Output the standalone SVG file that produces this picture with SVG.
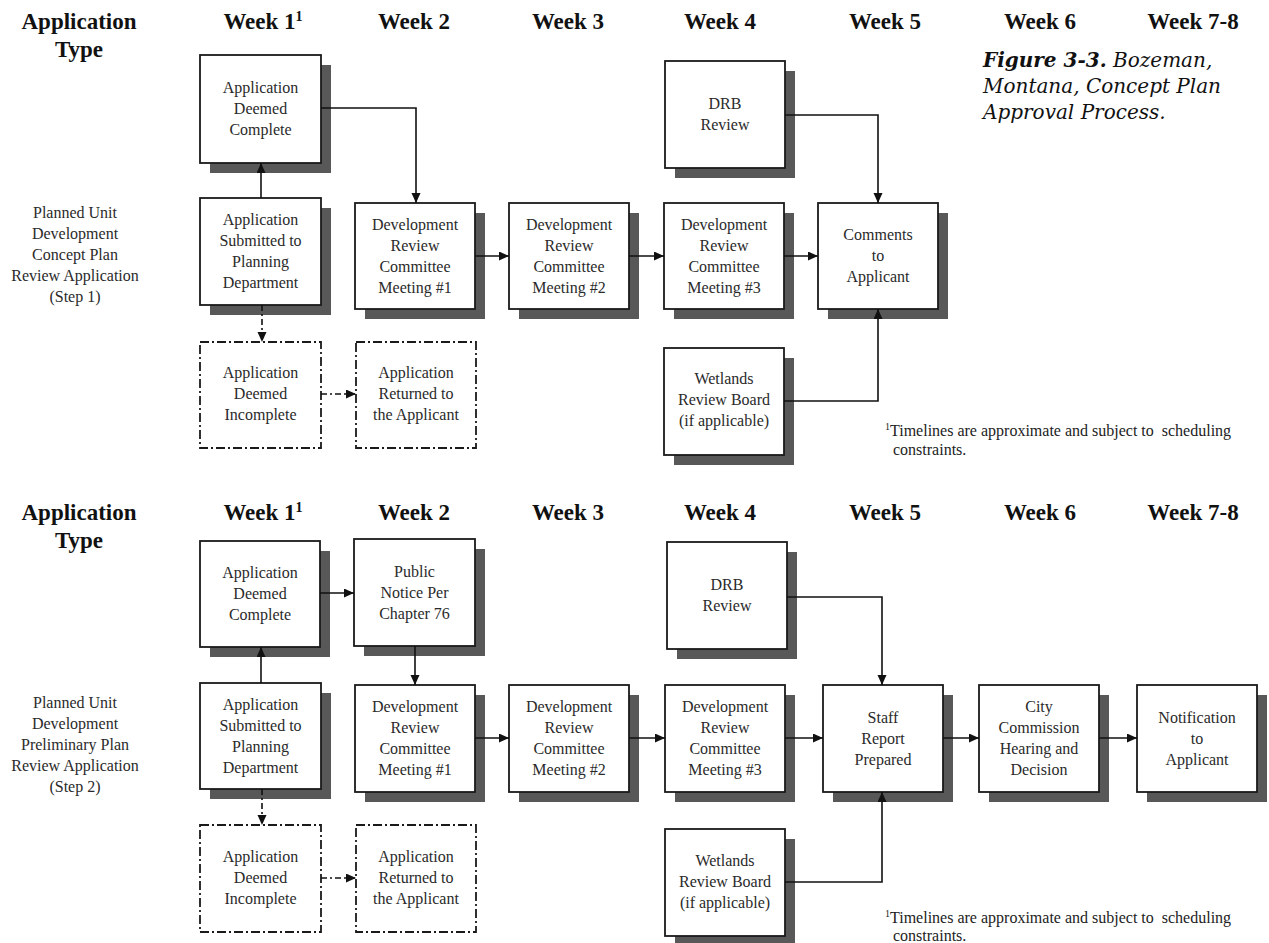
<svg xmlns="http://www.w3.org/2000/svg" width="1269" height="943" viewBox="0 0 1269 943">
<style>
.bg{fill:#ffffff}
.shadow{fill:#585858}
.box{fill:#ffffff;stroke:#1a1a1a;stroke-width:1.8}
.dbox{fill:#ffffff;stroke:#1a1a1a;stroke-width:1.8;stroke-dasharray:9 3 2 3}
.lbl{font-family:"Liberation Serif",serif;font-size:16px;fill:#2a2a2a;text-anchor:middle}
.hdr{font-family:"Liberation Serif",serif;font-size:23px;font-weight:bold;fill:#111;text-anchor:middle}
.sup{font-size:14px}
.conn{fill:none;stroke:#111;stroke-width:1.6}
.dconn{fill:none;stroke:#111;stroke-width:1.6;stroke-dasharray:6 3 2 3}
.cap{font-family:"DejaVu Serif",serif;font-size:20px;font-style:italic;fill:#111}
.foot{font-family:"Liberation Serif",serif;font-size:16px;fill:#222}
</style>
<defs>
<marker id="arr" markerUnits="userSpaceOnUse" markerWidth="10" markerHeight="10" refX="10" refY="4.5" orient="auto">
<path d="M0,0 L10,4.5 L0,9 z" fill="#111"/>
</marker>
</defs>
<rect class="bg" x="0" y="0" width="1269" height="943"/>

<!-- ===== TOP SECTION ===== -->
<g id="t-headers">
<text class="hdr" x="79" y="29">Application</text>
<text class="hdr" x="79" y="57">Type</text>
<text class="hdr" x="263" y="29">Week 1<tspan class="sup" dy="-8">1</tspan></text>
<text class="hdr" x="414" y="29">Week 2</text>
<text class="hdr" x="568" y="29">Week 3</text>
<text class="hdr" x="720" y="29">Week 4</text>
<text class="hdr" x="885" y="29">Week 5</text>
<text class="hdr" x="1040" y="29">Week 6</text>
<text class="hdr" x="1193" y="29">Week 7-8</text>
</g>
<g id="t-apptype">
<text class="lbl" x="75" y="218">Planned Unit</text>
<text class="lbl" x="75" y="239">Development</text>
<text class="lbl" x="75" y="260">Concept Plan</text>
<text class="lbl" x="75" y="281">Review Application</text>
<text class="lbl" x="75" y="302">(Step 1)</text>
</g>
<g id="caption">
<text class="cap" x="983" y="67"><tspan font-weight="bold">Figure 3-3.</tspan> Bozeman,</text>
<text class="cap" x="983" y="93">Montana, Concept Plan</text>
<text class="cap" x="983" y="119">Approval Process.</text>
</g>

<g id="t-complete">
<rect class="shadow" x="210" y="65" width="121" height="108"/>
<rect class="box" x="200" y="55" width="121" height="108"/>
<text class="lbl" x="260.5" y="93">Application</text>
<text class="lbl" x="260.5" y="114">Deemed</text>
<text class="lbl" x="260.5" y="135">Complete</text>
</g>
<g id="t-submitted">
<rect class="shadow" x="210" y="208" width="121" height="107"/>
<rect class="box" x="200" y="198" width="121" height="107"/>
<text class="lbl" x="260.5" y="225">Application</text>
<text class="lbl" x="260.5" y="246">Submitted to</text>
<text class="lbl" x="260.5" y="267">Planning</text>
<text class="lbl" x="260.5" y="288">Department</text>
</g>
<g id="t-drc1">
<rect class="shadow" x="365" y="213" width="120" height="106"/>
<rect class="box" x="355" y="203" width="120" height="106"/>
<text class="lbl" x="415" y="229.5">Development</text>
<text class="lbl" x="415" y="250.5">Review</text>
<text class="lbl" x="415" y="271.5">Committee</text>
<text class="lbl" x="415" y="292.5">Meeting #1</text>
</g>
<g id="t-drc2">
<rect class="shadow" x="519" y="213" width="120" height="106"/>
<rect class="box" x="509" y="203" width="120" height="106"/>
<text class="lbl" x="569" y="229.5">Development</text>
<text class="lbl" x="569" y="250.5">Review</text>
<text class="lbl" x="569" y="271.5">Committee</text>
<text class="lbl" x="569" y="292.5">Meeting #2</text>
</g>
<g id="t-drc3">
<rect class="shadow" x="674" y="213" width="120" height="106"/>
<rect class="box" x="664" y="203" width="120" height="106"/>
<text class="lbl" x="724" y="229.5">Development</text>
<text class="lbl" x="724" y="250.5">Review</text>
<text class="lbl" x="724" y="271.5">Committee</text>
<text class="lbl" x="724" y="292.5">Meeting #3</text>
</g>
<g id="t-comments">
<rect class="shadow" x="828" y="213" width="120" height="106"/>
<rect class="box" x="818" y="203" width="120" height="106"/>
<text class="lbl" x="878" y="240">Comments</text>
<text class="lbl" x="878" y="261">to</text>
<text class="lbl" x="878" y="282">Applicant</text>
</g>
<g id="t-drb">
<rect class="shadow" x="675" y="71" width="120" height="107"/>
<rect class="box" x="665" y="61" width="120" height="107"/>
<text class="lbl" x="725" y="109">DRB</text>
<text class="lbl" x="725" y="130">Review</text>
</g>
<g id="t-wetlands">
<rect class="shadow" x="674" y="358" width="120" height="107"/>
<rect class="box" x="664" y="348" width="120" height="107"/>
<text class="lbl" x="724" y="384">Wetlands</text>
<text class="lbl" x="724" y="405">Review Board</text>
<text class="lbl" x="724" y="426">(if applicable)</text>
</g>
<g id="t-incomplete">
<rect class="dbox" x="200" y="342" width="121" height="106"/>
<text class="lbl" x="260.5" y="378">Application</text>
<text class="lbl" x="260.5" y="399">Deemed</text>
<text class="lbl" x="260.5" y="420">Incomplete</text>
</g>
<g id="t-returned">
<rect class="dbox" x="356" y="342" width="120" height="106"/>
<text class="lbl" x="416" y="378">Application</text>
<text class="lbl" x="416" y="399">Returned to</text>
<text class="lbl" x="416" y="420">the Applicant</text>
</g>
<g id="t-footnote">
<text class="foot" x="885" y="436"><tspan font-size="10" dy="-6">1</tspan><tspan dy="6">Timelines are approximate and subject to&#160; scheduling</tspan></text>
<text class="foot" x="893" y="455">constraints.</text>
</g>

<!-- ===== BOTTOM SECTION ===== -->
<g id="b-headers">
<text class="hdr" x="79" y="520">Application</text>
<text class="hdr" x="79" y="548">Type</text>
<text class="hdr" x="263" y="520">Week 1<tspan class="sup" dy="-8">1</tspan></text>
<text class="hdr" x="414" y="520">Week 2</text>
<text class="hdr" x="568" y="520">Week 3</text>
<text class="hdr" x="720" y="520">Week 4</text>
<text class="hdr" x="885" y="520">Week 5</text>
<text class="hdr" x="1040" y="520">Week 6</text>
<text class="hdr" x="1193" y="520">Week 7-8</text>
</g>
<g id="b-apptype">
<text class="lbl" x="75" y="708">Planned Unit</text>
<text class="lbl" x="75" y="729">Development</text>
<text class="lbl" x="75" y="750">Preliminary Plan</text>
<text class="lbl" x="75" y="771">Review Application</text>
<text class="lbl" x="75" y="792">(Step 2)</text>
</g>

<g id="b-complete">
<rect class="shadow" x="210" y="551" width="120" height="106"/>
<rect class="box" x="200" y="541" width="120" height="106"/>
<text class="lbl" x="260" y="578">Application</text>
<text class="lbl" x="260" y="599">Deemed</text>
<text class="lbl" x="260" y="620">Complete</text>
</g>
<g id="b-public">
<rect class="shadow" x="364" y="549" width="121" height="107"/>
<rect class="box" x="354" y="539" width="121" height="107"/>
<text class="lbl" x="414.5" y="576.5">Public</text>
<text class="lbl" x="414.5" y="597.5">Notice Per</text>
<text class="lbl" x="414.5" y="618.5">Chapter 76</text>
</g>
<g id="b-submitted">
<rect class="shadow" x="210" y="693" width="121" height="106"/>
<rect class="box" x="200" y="683" width="121" height="106"/>
<text class="lbl" x="260.5" y="709.5">Application</text>
<text class="lbl" x="260.5" y="730.5">Submitted to</text>
<text class="lbl" x="260.5" y="751.5">Planning</text>
<text class="lbl" x="260.5" y="772.5">Department</text>
</g>
<g id="b-drc1">
<rect class="shadow" x="365" y="695" width="120" height="107"/>
<rect class="box" x="355" y="685" width="120" height="107"/>
<text class="lbl" x="415" y="712">Development</text>
<text class="lbl" x="415" y="733">Review</text>
<text class="lbl" x="415" y="754">Committee</text>
<text class="lbl" x="415" y="775">Meeting #1</text>
</g>
<g id="b-drc2">
<rect class="shadow" x="519" y="695" width="120" height="107"/>
<rect class="box" x="509" y="685" width="120" height="107"/>
<text class="lbl" x="569" y="712">Development</text>
<text class="lbl" x="569" y="733">Review</text>
<text class="lbl" x="569" y="754">Committee</text>
<text class="lbl" x="569" y="775">Meeting #2</text>
</g>
<g id="b-drc3">
<rect class="shadow" x="675" y="695" width="120" height="107"/>
<rect class="box" x="665" y="685" width="120" height="107"/>
<text class="lbl" x="725" y="712">Development</text>
<text class="lbl" x="725" y="733">Review</text>
<text class="lbl" x="725" y="754">Committee</text>
<text class="lbl" x="725" y="775">Meeting #3</text>
</g>
<g id="b-staff">
<rect class="shadow" x="833" y="695" width="120" height="107"/>
<rect class="box" x="823" y="685" width="120" height="107"/>
<text class="lbl" x="883" y="722.5">Staff</text>
<text class="lbl" x="883" y="743.5">Report</text>
<text class="lbl" x="883" y="764.5">Prepared</text>
</g>
<g id="b-city">
<rect class="shadow" x="989" y="695" width="120" height="107"/>
<rect class="box" x="979" y="685" width="120" height="107"/>
<text class="lbl" x="1039" y="712">City</text>
<text class="lbl" x="1039" y="733">Commission</text>
<text class="lbl" x="1039" y="754">Hearing and</text>
<text class="lbl" x="1039" y="775">Decision</text>
</g>
<g id="b-notification">
<rect class="shadow" x="1147" y="695" width="120" height="107"/>
<rect class="box" x="1137" y="685" width="120" height="107"/>
<text class="lbl" x="1197" y="722.5">Notification</text>
<text class="lbl" x="1197" y="743.5">to</text>
<text class="lbl" x="1197" y="764.5">Applicant</text>
</g>
<g id="b-drb">
<rect class="shadow" x="677" y="552" width="120" height="107"/>
<rect class="box" x="667" y="542" width="120" height="107"/>
<text class="lbl" x="727" y="590">DRB</text>
<text class="lbl" x="727" y="611">Review</text>
</g>
<g id="b-wetlands">
<rect class="shadow" x="675" y="839" width="120" height="107"/>
<rect class="box" x="665" y="829" width="120" height="107"/>
<text class="lbl" x="725" y="866">Wetlands</text>
<text class="lbl" x="725" y="887">Review Board</text>
<text class="lbl" x="725" y="908">(if applicable)</text>
</g>
<g id="b-incomplete">
<rect class="dbox" x="200" y="825" width="121" height="107"/>
<text class="lbl" x="260.5" y="862">Application</text>
<text class="lbl" x="260.5" y="883">Deemed</text>
<text class="lbl" x="260.5" y="904">Incomplete</text>
</g>
<g id="b-returned">
<rect class="dbox" x="356" y="825" width="120" height="107"/>
<text class="lbl" x="416" y="862">Application</text>
<text class="lbl" x="416" y="883">Returned to</text>
<text class="lbl" x="416" y="904">the Applicant</text>
</g>
<g id="b-footnote">
<text class="foot" x="885" y="923"><tspan font-size="10" dy="-6">1</tspan><tspan dy="6">Timelines are approximate and subject to&#160; scheduling</tspan></text>
<text class="foot" x="893" y="941">constraints.</text>
</g>

<!-- ===== CONNECTORS ===== -->
<g id="connectors">
<path class="conn" d="M261,198 L261,163" marker-end="url(#arr)"/>
<path class="conn" d="M321,108 L416,108 L416,203" marker-end="url(#arr)"/>
<path class="conn" d="M475,256 L509,256" marker-end="url(#arr)"/>
<path class="conn" d="M629,256 L664,256" marker-end="url(#arr)"/>
<path class="conn" d="M784,256 L818,256" marker-end="url(#arr)"/>
<path class="conn" d="M785,115 L878,115 L878,203" marker-end="url(#arr)"/>
<path class="conn" d="M784,401 L878,401 L878,309" marker-end="url(#arr)"/>
<path class="dconn" d="M262,305 L262,342" marker-end="url(#arr)"/>
<path class="dconn" d="M321,394 L356,394" marker-end="url(#arr)"/>

<path class="conn" d="M261,683 L261,647" marker-end="url(#arr)"/>
<path class="conn" d="M320,593 L354,593" marker-end="url(#arr)"/>
<path class="conn" d="M415,646 L415,685" marker-end="url(#arr)"/>
<path class="conn" d="M475,738 L509,738" marker-end="url(#arr)"/>
<path class="conn" d="M629,738 L665,738" marker-end="url(#arr)"/>
<path class="conn" d="M785,738 L823,738" marker-end="url(#arr)"/>
<path class="conn" d="M943,738 L979,738" marker-end="url(#arr)"/>
<path class="conn" d="M1099,738 L1137,738" marker-end="url(#arr)"/>
<path class="conn" d="M787,597 L882,597 L882,685" marker-end="url(#arr)"/>
<path class="conn" d="M785,882 L882,882 L882,792" marker-end="url(#arr)"/>
<path class="dconn" d="M262,789 L262,825" marker-end="url(#arr)"/>
<path class="dconn" d="M321,878 L356,878" marker-end="url(#arr)"/>
</g>
</svg>
